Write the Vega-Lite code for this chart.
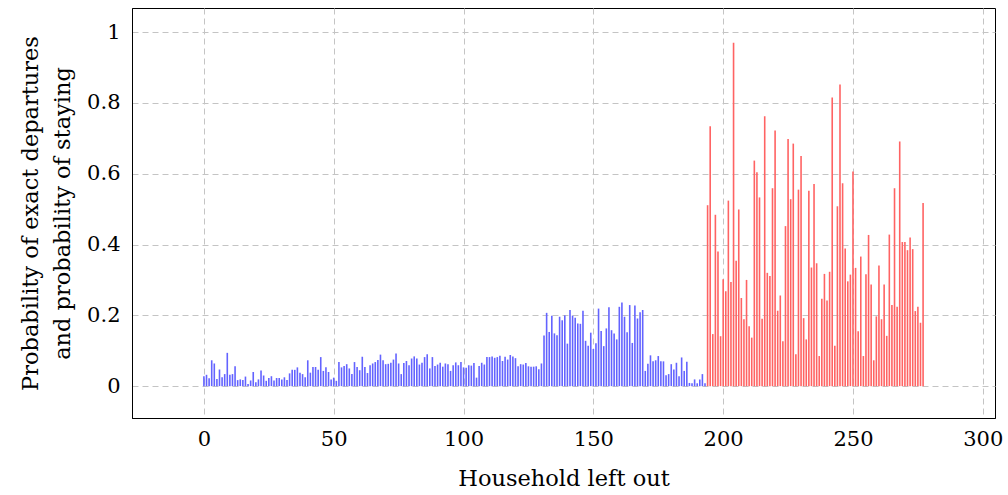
{
  "$schema": "https://vega.github.io/schema/vega-lite/v6.json",
  "width": 863,
  "height": 410,
  "autosize": {"type": "none"},
  "padding": {"left": 132, "top": 8, "right": 13, "bottom": 77},
  "background": "white",
  "config": {
    "view": {"stroke": "black", "strokeWidth": 1},
    "axis": {
      "labelFont": "DejaVu Serif",
      "titleFont": "DejaVu Serif",
      "labelFontSize": 21,
      "titleFontSize": 22.5,
      "titleFontWeight": "normal",
      "labelColor": "black",
      "titleColor": "black",
      "domainColor": "black",
      "grid": true,
      "gridColor": "#c4c4c4",
      "gridDash": [6, 4],
      "gridWidth": 1,
      "ticks": false
    }
  },
  "data": {"values": [
{"h":0,"p":0.028,"g":"in"},{"h":1,"p":0.032,"g":"in"},{"h":2,"p":0.022,"g":"in"},{"h":3,"p":0.073,"g":"in"},{"h":4,"p":0.064,"g":"in"},{"h":5,"p":0.020,"g":"in"},{"h":6,"p":0.047,"g":"in"},{"h":7,"p":0.025,"g":"in"},{"h":8,"p":0.034,"g":"in"},{"h":9,"p":0.094,"g":"in"},
{"h":10,"p":0.032,"g":"in"},{"h":11,"p":0.034,"g":"in"},{"h":12,"p":0.056,"g":"in"},{"h":13,"p":0.017,"g":"in"},{"h":14,"p":0.019,"g":"in"},{"h":15,"p":0.017,"g":"in"},{"h":16,"p":0.027,"g":"in"},{"h":17,"p":0.006,"g":"in"},{"h":18,"p":0.016,"g":"in"},{"h":19,"p":0.040,"g":"in"},
{"h":20,"p":0.011,"g":"in"},{"h":21,"p":0.019,"g":"in"},{"h":22,"p":0.044,"g":"in"},{"h":23,"p":0.030,"g":"in"},{"h":24,"p":0.015,"g":"in"},{"h":25,"p":0.023,"g":"in"},{"h":26,"p":0.028,"g":"in"},{"h":27,"p":0.016,"g":"in"},{"h":28,"p":0.023,"g":"in"},{"h":29,"p":0.023,"g":"in"},
{"h":30,"p":0.019,"g":"in"},{"h":31,"p":0.025,"g":"in"},{"h":32,"p":0.017,"g":"in"},{"h":33,"p":0.036,"g":"in"},{"h":34,"p":0.046,"g":"in"},{"h":35,"p":0.046,"g":"in"},{"h":36,"p":0.053,"g":"in"},{"h":37,"p":0.038,"g":"in"},{"h":38,"p":0.034,"g":"in"},{"h":39,"p":0.025,"g":"in"},
{"h":40,"p":0.073,"g":"in"},{"h":41,"p":0.038,"g":"in"},{"h":42,"p":0.054,"g":"in"},{"h":43,"p":0.054,"g":"in"},{"h":44,"p":0.046,"g":"in"},{"h":45,"p":0.082,"g":"in"},{"h":46,"p":0.043,"g":"in"},{"h":47,"p":0.053,"g":"in"},{"h":48,"p":0.040,"g":"in"},{"h":49,"p":0.019,"g":"in"},
{"h":50,"p":0.024,"g":"in"},{"h":51,"p":0.015,"g":"in"},{"h":52,"p":0.068,"g":"in"},{"h":53,"p":0.053,"g":"in"},{"h":54,"p":0.057,"g":"in"},{"h":55,"p":0.062,"g":"in"},{"h":56,"p":0.050,"g":"in"},{"h":57,"p":0.034,"g":"in"},{"h":58,"p":0.068,"g":"in"},{"h":59,"p":0.054,"g":"in"},
{"h":60,"p":0.045,"g":"in"},{"h":61,"p":0.083,"g":"in"},{"h":62,"p":0.054,"g":"in"},{"h":63,"p":0.037,"g":"in"},{"h":64,"p":0.059,"g":"in"},{"h":65,"p":0.064,"g":"in"},{"h":66,"p":0.068,"g":"in"},{"h":67,"p":0.074,"g":"in"},{"h":68,"p":0.089,"g":"in"},{"h":69,"p":0.073,"g":"in"},
{"h":70,"p":0.062,"g":"in"},{"h":71,"p":0.063,"g":"in"},{"h":72,"p":0.066,"g":"in"},{"h":73,"p":0.075,"g":"in"},{"h":74,"p":0.092,"g":"in"},{"h":75,"p":0.064,"g":"in"},{"h":76,"p":0.034,"g":"in"},{"h":77,"p":0.065,"g":"in"},{"h":78,"p":0.071,"g":"in"},{"h":79,"p":0.059,"g":"in"},
{"h":80,"p":0.078,"g":"in"},{"h":81,"p":0.084,"g":"in"},{"h":82,"p":0.078,"g":"in"},{"h":83,"p":0.061,"g":"in"},{"h":84,"p":0.066,"g":"in"},{"h":85,"p":0.082,"g":"in"},{"h":86,"p":0.090,"g":"in"},{"h":87,"p":0.050,"g":"in"},{"h":88,"p":0.082,"g":"in"},{"h":89,"p":0.057,"g":"in"},
{"h":90,"p":0.061,"g":"in"},{"h":91,"p":0.066,"g":"in"},{"h":92,"p":0.055,"g":"in"},{"h":93,"p":0.064,"g":"in"},{"h":94,"p":0.062,"g":"in"},{"h":95,"p":0.043,"g":"in"},{"h":96,"p":0.059,"g":"in"},{"h":97,"p":0.067,"g":"in"},{"h":98,"p":0.059,"g":"in"},{"h":99,"p":0.068,"g":"in"},
{"h":100,"p":0.053,"g":"in"},{"h":101,"p":0.052,"g":"in"},{"h":102,"p":0.059,"g":"in"},{"h":103,"p":0.058,"g":"in"},{"h":104,"p":0.065,"g":"in"},{"h":105,"p":0.024,"g":"in"},{"h":106,"p":0.057,"g":"in"},{"h":107,"p":0.066,"g":"in"},{"h":108,"p":0.061,"g":"in"},{"h":109,"p":0.082,"g":"in"},
{"h":110,"p":0.082,"g":"in"},{"h":111,"p":0.084,"g":"in"},{"h":112,"p":0.080,"g":"in"},{"h":113,"p":0.082,"g":"in"},{"h":114,"p":0.086,"g":"in"},{"h":115,"p":0.071,"g":"in"},{"h":116,"p":0.083,"g":"in"},{"h":117,"p":0.075,"g":"in"},{"h":118,"p":0.088,"g":"in"},{"h":119,"p":0.084,"g":"in"},
{"h":120,"p":0.079,"g":"in"},{"h":121,"p":0.056,"g":"in"},{"h":122,"p":0.062,"g":"in"},{"h":123,"p":0.061,"g":"in"},{"h":124,"p":0.065,"g":"in"},{"h":125,"p":0.056,"g":"in"},{"h":126,"p":0.055,"g":"in"},{"h":127,"p":0.055,"g":"in"},{"h":128,"p":0.056,"g":"in"},{"h":129,"p":0.048,"g":"in"},
{"h":130,"p":0.064,"g":"in"},{"h":131,"p":0.143,"g":"in"},{"h":132,"p":0.207,"g":"in"},{"h":133,"p":0.153,"g":"in"},{"h":134,"p":0.199,"g":"in"},{"h":135,"p":0.149,"g":"in"},{"h":136,"p":0.144,"g":"in"},{"h":137,"p":0.196,"g":"in"},{"h":138,"p":0.186,"g":"in"},{"h":139,"p":0.200,"g":"in"},
{"h":140,"p":0.120,"g":"in"},{"h":141,"p":0.215,"g":"in"},{"h":142,"p":0.199,"g":"in"},{"h":143,"p":0.193,"g":"in"},{"h":144,"p":0.177,"g":"in"},{"h":145,"p":0.176,"g":"in"},{"h":146,"p":0.213,"g":"in"},{"h":147,"p":0.128,"g":"in"},{"h":148,"p":0.114,"g":"in"},{"h":149,"p":0.151,"g":"in"},
{"h":150,"p":0.105,"g":"in"},{"h":151,"p":0.121,"g":"in"},{"h":152,"p":0.219,"g":"in"},{"h":153,"p":0.156,"g":"in"},{"h":154,"p":0.113,"g":"in"},{"h":155,"p":0.163,"g":"in"},{"h":156,"p":0.223,"g":"in"},{"h":157,"p":0.158,"g":"in"},{"h":158,"p":0.149,"g":"in"},{"h":159,"p":0.132,"g":"in"},
{"h":160,"p":0.224,"g":"in"},{"h":161,"p":0.236,"g":"in"},{"h":162,"p":0.196,"g":"in"},{"h":163,"p":0.152,"g":"in"},{"h":164,"p":0.229,"g":"in"},{"h":165,"p":0.122,"g":"in"},{"h":166,"p":0.228,"g":"in"},{"h":167,"p":0.191,"g":"in"},{"h":168,"p":0.209,"g":"in"},{"h":169,"p":0.215,"g":"in"},
{"h":170,"p":0.043,"g":"in"},{"h":171,"p":0.063,"g":"in"},{"h":172,"p":0.087,"g":"in"},{"h":173,"p":0.070,"g":"in"},{"h":174,"p":0.073,"g":"in"},{"h":175,"p":0.085,"g":"in"},{"h":176,"p":0.070,"g":"in"},{"h":177,"p":0.070,"g":"in"},{"h":178,"p":0.031,"g":"in"},{"h":179,"p":0.034,"g":"in"},
{"h":180,"p":0.062,"g":"in"},{"h":181,"p":0.047,"g":"in"},{"h":182,"p":0.066,"g":"in"},{"h":183,"p":0.028,"g":"in"},{"h":184,"p":0.081,"g":"in"},{"h":185,"p":0.043,"g":"in"},{"h":186,"p":0.069,"g":"in"},{"h":187,"p":0.009,"g":"in"},{"h":188,"p":0.008,"g":"in"},{"h":189,"p":0.019,"g":"in"},
{"h":190,"p":0.008,"g":"in"},{"h":191,"p":0.019,"g":"in"},{"h":192,"p":0.034,"g":"in"},{"h":193,"p":0.008,"g":"in"},
{"h":194,"p":0.511,"g":"out"},{"h":195,"p":0.734,"g":"out"},{"h":196,"p":0.147,"g":"out"},{"h":197,"p":0.484,"g":"out"},{"h":198,"p":0.380,"g":"out"},{"h":199,"p":0.141,"g":"out"},
{"h":200,"p":0.302,"g":"out"},{"h":201,"p":0.268,"g":"out"},{"h":202,"p":0.524,"g":"out"},{"h":203,"p":0.294,"g":"out"},{"h":204,"p":0.970,"g":"out"},{"h":205,"p":0.354,"g":"out"},{"h":206,"p":0.499,"g":"out"},{"h":207,"p":0.249,"g":"out"},{"h":208,"p":0.189,"g":"out"},{"h":209,"p":0.300,"g":"out"},
{"h":210,"p":0.169,"g":"out"},{"h":211,"p":0.137,"g":"out"},{"h":212,"p":0.637,"g":"out"},{"h":213,"p":0.604,"g":"out"},{"h":214,"p":0.533,"g":"out"},{"h":215,"p":0.190,"g":"out"},{"h":216,"p":0.762,"g":"out"},{"h":217,"p":0.320,"g":"out"},{"h":218,"p":0.311,"g":"out"},{"h":219,"p":0.559,"g":"out"},
{"h":220,"p":0.722,"g":"out"},{"h":221,"p":0.213,"g":"out"},{"h":222,"p":0.256,"g":"out"},{"h":223,"p":0.127,"g":"out"},{"h":224,"p":0.452,"g":"out"},{"h":225,"p":0.698,"g":"out"},{"h":226,"p":0.528,"g":"out"},{"h":227,"p":0.685,"g":"out"},{"h":228,"p":0.090,"g":"out"},{"h":229,"p":0.555,"g":"out"},
{"h":230,"p":0.650,"g":"out"},{"h":231,"p":0.192,"g":"out"},{"h":232,"p":0.132,"g":"out"},{"h":233,"p":0.552,"g":"out"},{"h":234,"p":0.335,"g":"out"},{"h":235,"p":0.571,"g":"out"},{"h":236,"p":0.347,"g":"out"},{"h":237,"p":0.085,"g":"out"},{"h":238,"p":0.247,"g":"out"},{"h":239,"p":0.317,"g":"out"},
{"h":240,"p":0.242,"g":"out"},{"h":241,"p":0.323,"g":"out"},{"h":242,"p":0.815,"g":"out"},{"h":243,"p":0.114,"g":"out"},{"h":244,"p":0.508,"g":"out"},{"h":245,"p":0.852,"g":"out"},{"h":246,"p":0.573,"g":"out"},{"h":247,"p":0.389,"g":"out"},{"h":248,"p":0.296,"g":"out"},{"h":249,"p":0.315,"g":"out"},
{"h":250,"p":0.606,"g":"out"},{"h":251,"p":0.334,"g":"out"},{"h":252,"p":0.155,"g":"out"},{"h":253,"p":0.366,"g":"out"},{"h":254,"p":0.085,"g":"out"},{"h":255,"p":0.316,"g":"out"},{"h":256,"p":0.427,"g":"out"},{"h":257,"p":0.287,"g":"out"},{"h":258,"p":0.073,"g":"out"},{"h":259,"p":0.197,"g":"out"},
{"h":260,"p":0.341,"g":"out"},{"h":261,"p":0.189,"g":"out"},{"h":262,"p":0.287,"g":"out"},{"h":263,"p":0.142,"g":"out"},{"h":264,"p":0.428,"g":"out"},{"h":265,"p":0.229,"g":"out"},{"h":266,"p":0.559,"g":"out"},{"h":267,"p":0.224,"g":"out"},{"h":268,"p":0.691,"g":"out"},{"h":269,"p":0.407,"g":"out"},
{"h":270,"p":0.407,"g":"out"},{"h":271,"p":0.384,"g":"out"},{"h":272,"p":0.420,"g":"out"},{"h":273,"p":0.387,"g":"out"},{"h":274,"p":0.212,"g":"out"},{"h":275,"p":0.224,"g":"out"},{"h":276,"p":0.179,"g":"out"},{"h":277,"p":0.517,"g":"out"}
  ]},
  "mark": {"type": "rule", "strokeWidth": 1.6},
  "encoding": {
    "x": {
      "field": "h", "type": "quantitative",
      "scale": {"domain": [-27.7, 304.7], "nice": false, "zero": false},
      "axis": {"values": [0, 50, 100, 150, 200, 250, 300], "title": "Household left out", "labelPadding": 10, "titlePadding": 18, "format": "d"}
    },
    "y": {
      "field": "p", "type": "quantitative",
      "scale": {"domain": [-0.09, 1.068], "nice": false, "zero": false},
      "axis": {"values": [0, 0.2, 0.4, 0.6, 0.8, 1], "format": "~g", "labelPadding": 12, "title": ["Probability of exact departures", "and probability of staying"], "titlePadding": 12, "titleLineHeight": 32}
    },
    "y2": {"datum": 0},
    "color": {
      "field": "g", "type": "nominal",
      "scale": {"domain": ["in", "out"], "range": ["#6363ff", "#ff6363"]},
      "legend": null
    }
  }
}
